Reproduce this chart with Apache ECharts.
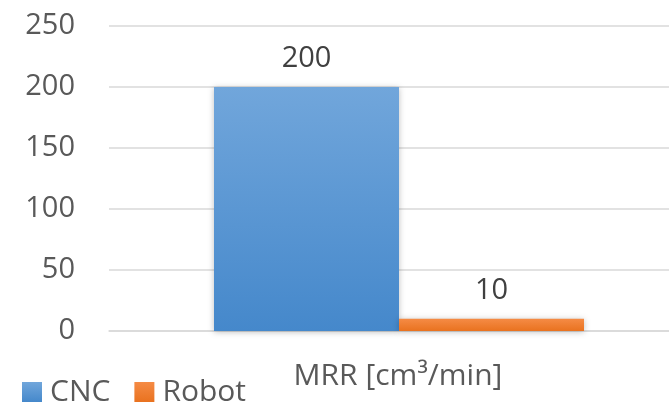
<!DOCTYPE html>
<html><head><meta charset="utf-8">
<script src="https://cdn.jsdelivr.net/npm/echarts@6/dist/echarts.min.js"></script>
<style>html,body{margin:0;padding:0;background:#fff}#c{width:669px;height:403px}</style>
</head><body><div id="c"></div>
<script>
const categories = ['MRR [cm³/min]'];
const seriesNames = ['CNC', 'Robot'];
const cncValues = [200];
const robotValues = [10];
const yTicks = [0, 50, 100, 150, 200, 250];

const font = '"Open Sans", "Noto Sans", sans-serif';
const grad = (a, b) => new echarts.graphic.LinearGradient(0, 0, 0, 1, [{offset: 0, color: a}, {offset: 1, color: b}]);
const chart = echarts.init(document.getElementById('c'), null, {renderer: 'canvas'});
chart.setOption({
  animation: false,
  textStyle: {fontFamily: font},
  legend: {
    left: 17, top: 372, itemWidth: 20, itemHeight: 20, itemGap: 24,
    icon: 'rect',
    textStyle: {fontSize: 30, color: '#595959', fontFamily: font, padding: [0, 0, 0, 3]},
    data: seriesNames
  },
  grid: {left: 109, top: 26, right: 0, bottom: 72, containLabel: false},
  xAxis: {
    type: 'category', data: categories,
    axisLine: {show: true, lineStyle: {color: '#D9D9D9', width: 1.5}},
    axisTick: {show: false},
    axisLabel: {fontSize: 30, color: '#595959', margin: 30, fontFamily: font, padding: [0, 0, 0, 18]}
  },
  yAxis: {
    type: 'value', min: yTicks[0], max: yTicks[yTicks.length - 1], interval: 50,
    axisLine: {show: false}, axisTick: {show: false},
    splitLine: {lineStyle: {color: '#D9D9D9', width: 1.5}},
    axisLabel: {fontSize: 29, color: '#595959', margin: 34, fontFamily: font}
  },
  series: [
    {
      name: 'spacer', type: 'bar', data: ['-'], barWidth: 20, barGap: '0%', silent: true,
      itemStyle: {color: 'transparent'}
    },
    {
      name: seriesNames[0], type: 'bar', data: cncValues, barWidth: 185, barGap: '0%',
      itemStyle: {color: grad('#71A6DB', '#4588CB'), shadowColor: 'rgba(0,0,0,0.25)', shadowBlur: 6, shadowOffsetX: 0, shadowOffsetY: 1},
      label: {show: true, position: 'top', distance: 14, fontSize: 29, color: '#404040', fontFamily: font}
    },
    {
      name: seriesNames[1], type: 'bar', data: robotValues, barWidth: 185, barGap: '0%',
      itemStyle: {color: grad('#F58B45', '#E9721F'), shadowColor: 'rgba(0,0,0,0.25)', shadowBlur: 6, shadowOffsetX: 0, shadowOffsetY: 1},
      label: {show: true, position: 'top', distance: 14, fontSize: 29, color: '#404040', fontFamily: font}
    }
  ]
});
</script></body></html>
